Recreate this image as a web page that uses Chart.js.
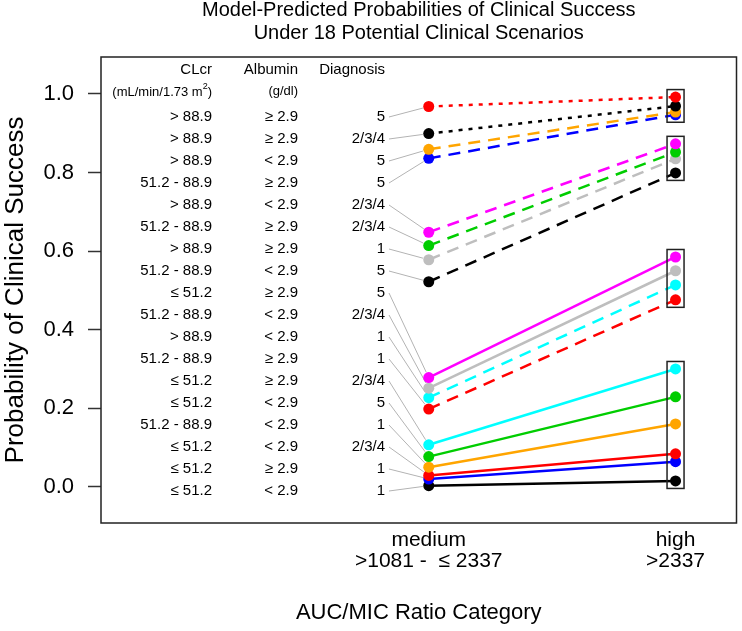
<!DOCTYPE html>
<html>
<head>
<meta charset="utf-8">
<script src="https://cdn.jsdelivr.net/npm/chart.js@4/dist/chart.umd.min.js"></script>
<style>
  body { margin: 0; background: #fff; }
  canvas { display: block; }
</style>
</head>
<body>
<canvas id="c" width="742" height="631"></canvas>
<script>
const FONT = "'Liberation Sans', Arial, sans-serif";

// x categories (AUC/MIC ratio) and their two-line tick labels
const categories = ['medium', 'high'];
const categoryLabels = [['medium', '>1081 -  \u2264 2337'], ['high', '>2337']];
const yTicks = [0, 0.2, 0.4, 0.6, 0.8, 1.0];

// 18 scenarios, sorted as in the table (descending medium probability)
const clcr = ['> 88.9', '> 88.9', '> 88.9', '51.2 - 88.9', '> 88.9', '51.2 - 88.9',
  '> 88.9', '51.2 - 88.9', '\u2264 51.2', '51.2 - 88.9', '> 88.9', '51.2 - 88.9',
  '\u2264 51.2', '\u2264 51.2', '51.2 - 88.9', '\u2264 51.2', '\u2264 51.2', '\u2264 51.2'];
const albumin = ['\u2265 2.9', '\u2265 2.9', '< 2.9', '\u2265 2.9', '< 2.9', '\u2265 2.9',
  '\u2265 2.9', '< 2.9', '\u2265 2.9', '< 2.9', '< 2.9', '\u2265 2.9',
  '\u2265 2.9', '< 2.9', '< 2.9', '< 2.9', '\u2265 2.9', '< 2.9'];
const diagnosis = ['5', '2/3/4', '5', '5', '2/3/4', '2/3/4', '1', '5', '5', '2/3/4',
  '1', '1', '2/3/4', '5', '1', '2/3/4', '1', '1'];

const mediumValues = [0.968, 0.899, 0.859, 0.836, 0.648, 0.614, 0.578, 0.522, 0.278,
  0.251, 0.227, 0.198, 0.107, 0.077, 0.050, 0.029, 0.020, 0.003];
const highValues = [0.992, 0.969, 0.954, 0.947, 0.873, 0.852, 0.835, 0.799, 0.585,
  0.550, 0.514, 0.476, 0.300, 0.229, 0.160, 0.084, 0.064, 0.015];

const colors = ['#ff0000', '#000000', '#ffa500', '#0000ff', '#ff00ff', '#00cd00', '#bebebe', '#000000',
  '#ff00ff', '#bebebe', '#00ffff', '#ff0000', '#00ffff', '#00cd00', '#ffa500', '#ff0000', '#0000ff', '#000000'];
const lineTypes = ['dotted', 'dotted', 'dashed', 'dashed', 'dashed', 'dashed', 'dashed', 'dashed',
  'solid', 'solid', 'dashed', 'dashed', 'solid', 'solid', 'solid', 'solid', 'solid', 'solid'];

// scenarios grouped by boxes at the "high" category (first/last index)
const highGroups = [[0, 3], [4, 7], [8, 11], [12, 17]];

function dashFor(t) {
  if (t === 'dotted') return [4, 6];
  if (t === 'dashed') return [12, 8];
  return [];
}

const overlay = {
  id: 'overlay',
  beforeDatasetsDraw(chart) {
    const { ctx, chartArea: a, scales: { x, y } } = chart;
    ctx.save();
    ctx.fillStyle = '#000';
    ctx.textAlign = 'right';
    ctx.textBaseline = 'middle';
    ctx.font = '15px ' + FONT;
    ctx.fillText('CLcr', a.left + 111, a.top + 13);
    ctx.fillText('Albumin', a.left + 197, a.top + 13);
    ctx.fillText('Diagnosis', a.left + 284, a.top + 13);

    // units with superscript
    ctx.font = '13px ' + FONT;
    const right = a.left + 111;
    const wClose = ctx.measureText(')').width;
    ctx.fillText(')', right, a.top + 35);
    ctx.font = '9px ' + FONT;
    const wSup = ctx.measureText('2').width;
    ctx.fillText('2', right - wClose, a.top + 30);
    ctx.font = '13px ' + FONT;
    ctx.fillText('(mL/min/1.73 m', right - wClose - wSup, a.top + 35);
    ctx.fillText('(g/dl)', a.left + 197, a.top + 34);

    ctx.font = '15px ' + FONT;
    ctx.strokeStyle = '#b3b3b3';
    ctx.lineWidth = 1;
    for (let i = 0; i < clcr.length; i++) {
      const ry = a.top + 60 + 22 * i;
      ctx.fillText(clcr[i], a.left + 111, ry);
      ctx.fillText(albumin[i], a.left + 197, ry);
      ctx.fillText(diagnosis[i], a.left + 284, ry);

      const sx = a.left + 288;
      const px = x.getPixelForValue(0);
      const py = y.getPixelForValue(mediumValues[i]);
      const dx = px - sx, dy = py - ry;
      const len = Math.sqrt(dx * dx + dy * dy);
      ctx.beginPath();
      ctx.moveTo(sx, ry);
      ctx.lineTo(px - dx / len * 6, py - dy / len * 6);
      ctx.stroke();
    }
    ctx.restore();
  },
  afterDatasetsDraw(chart) {
    const { ctx, chartArea: a, scales: { x, y } } = chart;
    ctx.save();
    ctx.strokeStyle = '#222';
    ctx.lineWidth = 1.5;
    const hx = x.getPixelForValue(1);
    highGroups.forEach(([s, e]) => {
      const vals = highValues.slice(s, e + 1);
      const top = y.getPixelForValue(Math.max(...vals)) - 7.5;
      const bot = y.getPixelForValue(Math.min(...vals)) + 7.5;
      ctx.strokeRect(hx - 8.5, top, 17, bot - top);
    });
    ctx.strokeRect(a.left, a.top, a.right - a.left, a.bottom - a.top);

    ctx.fillStyle = '#000';
    ctx.textAlign = 'center';
    ctx.textBaseline = 'middle';
    ctx.font = '20px ' + FONT;
    const cx = (a.left + a.right) / 2;
    ctx.fillText('Model-Predicted Probabilities of Clinical Success', cx, 10);
    ctx.fillText('Under 18 Potential Clinical Scenarios', cx, 33);
    ctx.restore();
  }
};

new Chart(document.getElementById('c'), {
  type: 'line',
  data: {
    datasets: mediumValues.map((m, i) => ({
      label: 'scenario ' + (i + 1),
      data: [{ x: 0, y: m }, { x: 1, y: highValues[i] }],
      borderColor: colors[i],
      backgroundColor: colors[i],
      pointBackgroundColor: colors[i],
      pointBorderWidth: 0,
      pointRadius: 5.5,
      borderWidth: 2.5,
      borderDash: dashFor(lineTypes[i])
    }))
  },
  options: {
    responsive: false,
    animation: false,
    devicePixelRatio: 1,
    layout: { padding: { top: 57, right: 5, left: 0, bottom: 0 } },
    plugins: { legend: { display: false }, tooltip: { enabled: false }, title: { display: false } },
    scales: {
      x: {
        type: 'linear',
        min: -1.328,
        max: 1.247,
        afterBuildTicks: s => { s.ticks = categories.map((c, i) => ({ value: i })); },
        afterFit: s => { s.height = 108; },
        ticks: {
          callback: v => categoryLabels[Math.round(v)],
          font: { size: 21, family: FONT, lineHeight: 1.0 },
          color: '#000',
          padding: 7,
          maxRotation: 0,
          autoSkip: false
        },
        grid: { display: false, drawTicks: false },
        border: { display: false },
        title: {
          display: true,
          text: 'AUC/MIC Ratio Category',
          font: { size: 22, family: FONT },
          color: '#000',
          padding: { top: 0, bottom: 5 }
        }
      },
      y: {
        min: -0.092,
        max: 1.094,
        afterBuildTicks: s => { s.ticks = yTicks.map(v => ({ value: v })); },
        afterFit: s => { s.width = 101; },
        ticks: {
          callback: v => v.toFixed(1),
          font: { size: 22, family: FONT },
          color: '#000',
          padding: 14
        },
        grid: { drawOnChartArea: false, tickLength: 13, tickColor: '#333', tickWidth: 1.5 },
        border: { display: false },
        title: {
          display: true,
          text: 'Probability of Clinical Success',
          font: { size: 26, family: FONT },
          color: '#000',
          padding: { top: 0, bottom: 0 }
        }
      }
    }
  },
  plugins: [overlay]
});
</script>
</body>
</html>
